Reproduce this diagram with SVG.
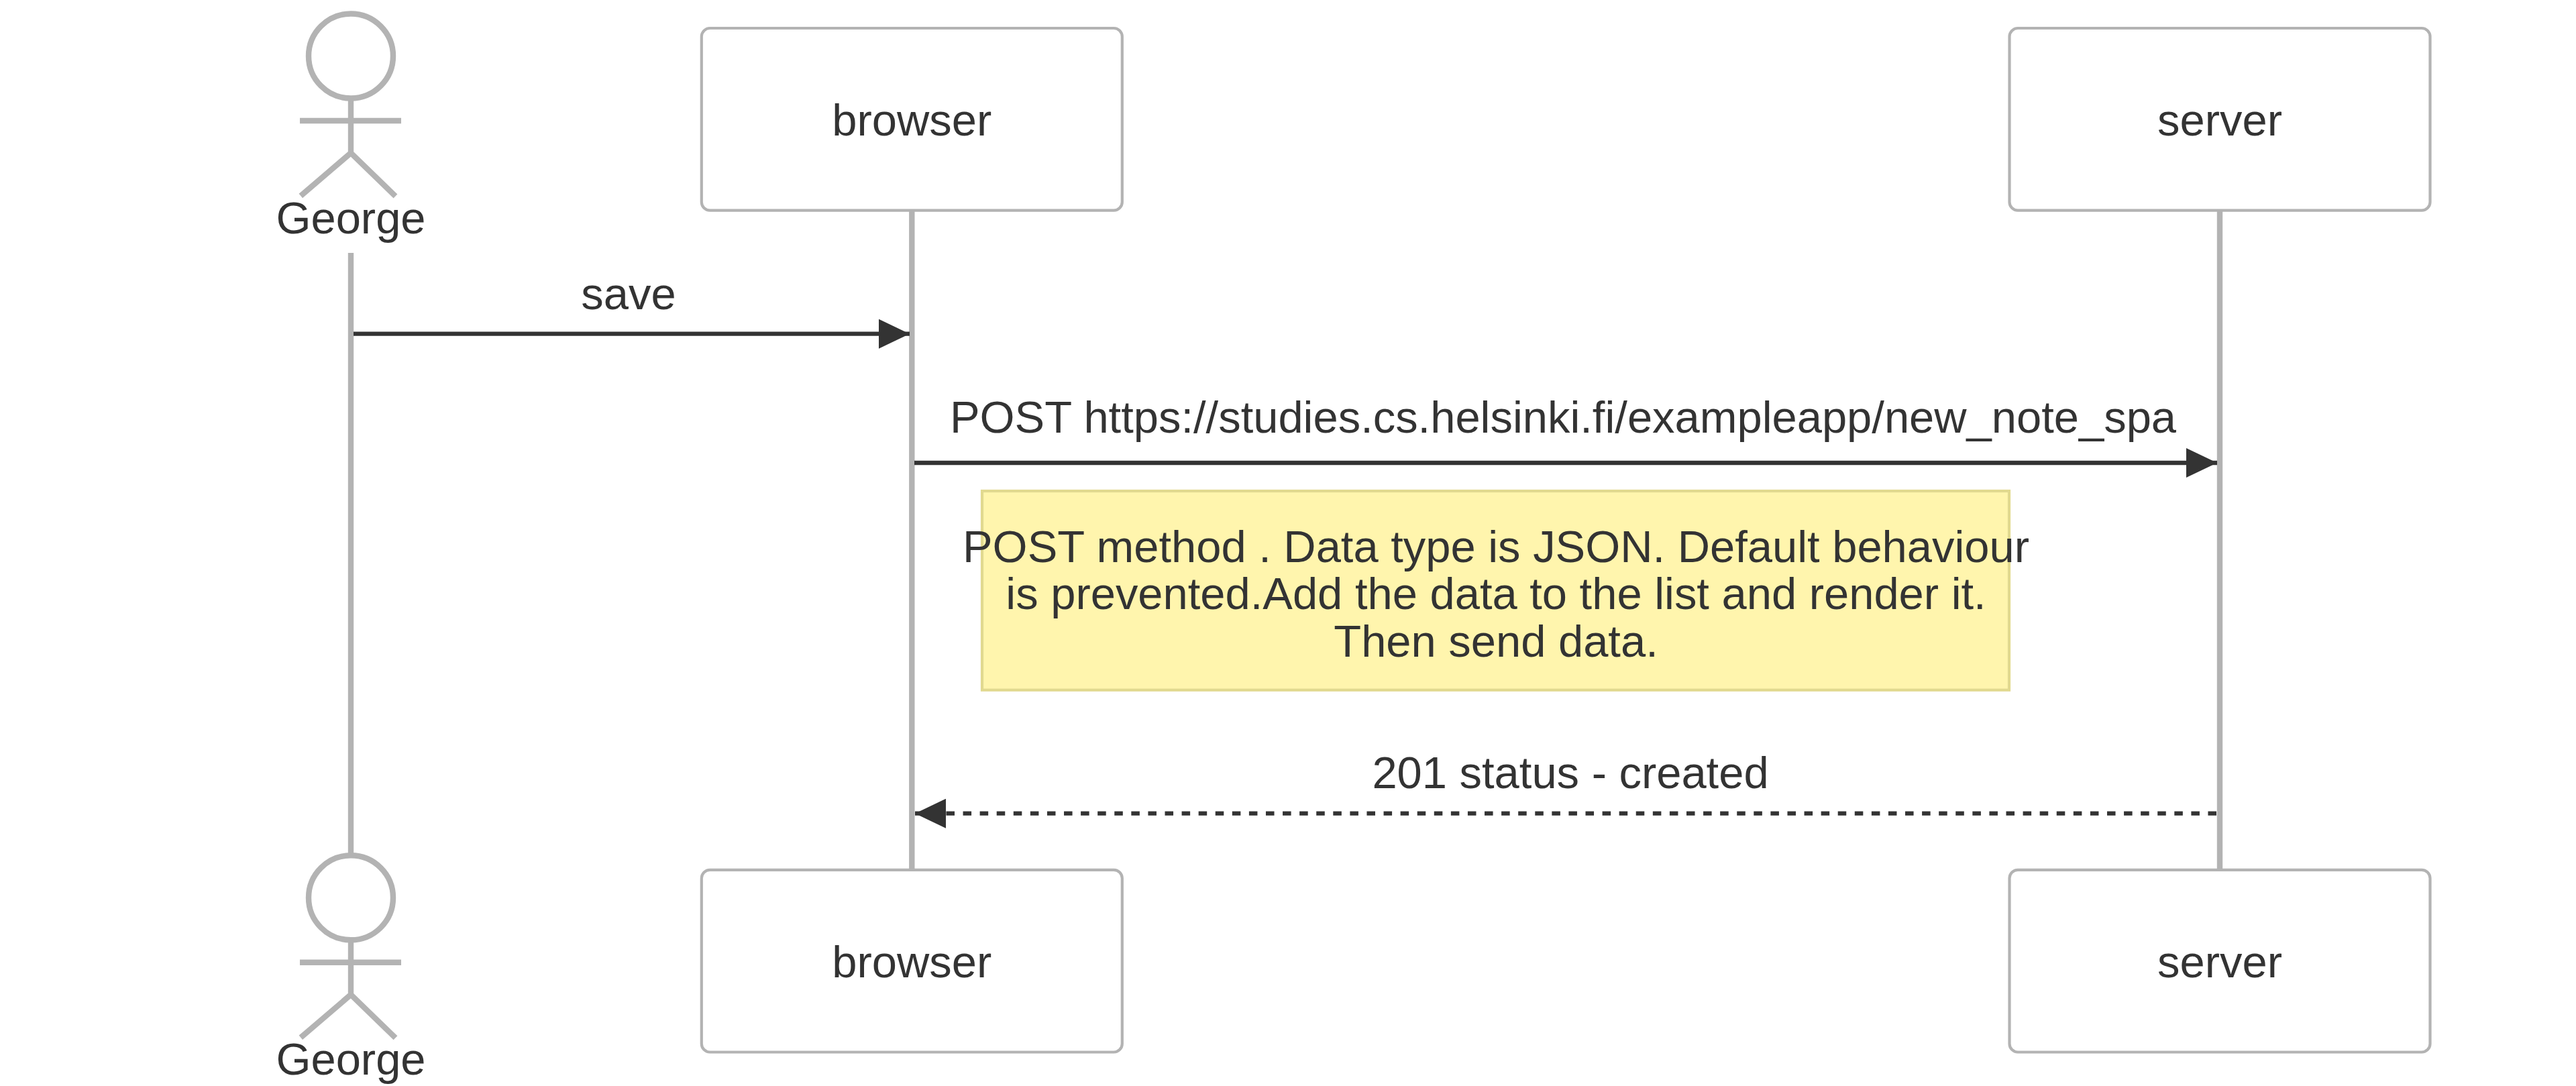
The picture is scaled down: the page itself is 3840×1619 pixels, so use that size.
<svg xmlns="http://www.w3.org/2000/svg" width="3840" height="1619" viewBox="0 0 3840 1619">
<style>
text{font-family:"Liberation Sans",Arial,sans-serif;font-size:66.900px;fill:#333;text-anchor:middle}
.life{stroke:#b3b3b3;stroke-width:8.400;fill:none}
.box{fill:#fff;stroke:#b3b3b3;stroke-width:4.200}
.man{fill:none;stroke:#b3b3b3;stroke-width:8.400}
.msg{stroke:#333;stroke-width:6.300;fill:none}
.note{fill:#fff5ad;stroke:#e1d98f;stroke-width:4.200}
</style>
<defs>
<marker id="head" markerUnits="userSpaceOnUse" markerWidth="46" markerHeight="44" refX="46" refY="22" orient="auto"><path d="M0,0L46,22L0,44z" fill="#333"/></marker>
<g id="stick">
<circle class="man" cx="523" cy="83.500" r="63"/>
<path class="man" d="M523,146V228M447,180H598M523,228L448.300,292M523,228L589.500,292.500"/>
</g>
</defs>
<rect width="3840" height="1619" fill="#fff"/>
<g id="lifelines">
<path class="life" d="M523,377V1272"/>
<path class="life" d="M1359.300,313V1296"/>
<path class="life" d="M3309,313V1296"/>
</g>
<g id="actor-george-top"><use href="#stick"/><text x="523" y="347.500">George</text></g>
<g id="actor-browser-top"><rect class="box" x="1045.800" y="42" width="627" height="271.700" rx="12.500"/><text x="1359.300" y="201.900">browser</text></g>
<g id="actor-server-top"><rect class="box" x="2995.500" y="42" width="627" height="271.700" rx="12.500"/><text x="3309" y="201.900">server</text></g>
<g id="note"><rect class="note" x="1464" y="732" width="1531" height="296.700"/>
<text x="2230" y="837.500">POST method . Data type is JSON. Default behaviour</text>
<text x="2230" y="907.500">is prevented.Add the data to the list and render it.</text>
<text x="2230" y="978.500">Then send data.</text></g>
<g id="connectors">
<path class="msg" d="M527,497.700H1356" marker-end="url(#head)"/>
<path class="msg" d="M1363,690H3305" marker-end="url(#head)"/>
<path class="msg" d="M3304,1212.700H1364" stroke-dasharray="12.540" marker-end="url(#head)"/>
</g>
<g id="labels">
<text x="937" y="460.500">save</text>
<text x="2330" y="644.500">POST https://studies.cs.helsinki.fi/exampleapp/new_note_spa</text>
<text x="2341" y="1175">201 status - created</text>
</g>
<g id="actor-george-bottom"><use href="#stick" y="1254.800"/><text x="523" y="1602.300">George</text></g>
<g id="actor-browser-bottom"><rect class="box" x="1045.800" y="1296.800" width="627" height="271.700" rx="12.500"/><text x="1359.300" y="1456.700">browser</text></g>
<g id="actor-server-bottom"><rect class="box" x="2995.500" y="1296.800" width="627" height="271.700" rx="12.500"/><text x="3309" y="1456.700">server</text></g>
</svg>
